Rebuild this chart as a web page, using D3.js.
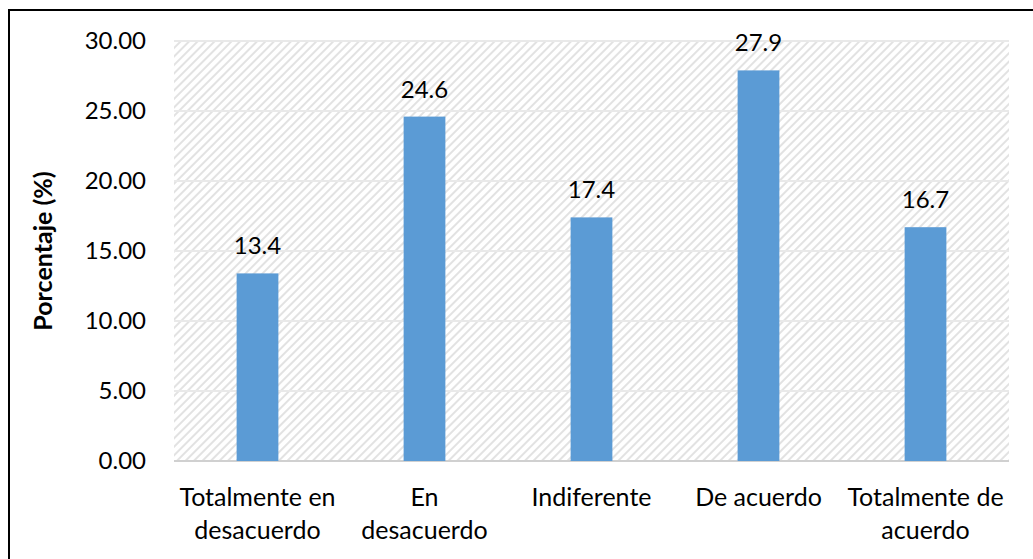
<!DOCTYPE html>
<html>
<head>
<meta charset="utf-8">
<script src="https://cdn.jsdelivr.net/npm/d3@7"></script>
<style>
  body { margin: 0; background: #fff; }
  svg { display: block; font-family: Lato, "Open Sans", sans-serif; }
</style>
</head>
<body>
<svg width="1033" height="559" viewBox="0 0 1033 559"></svg>
<script>
// values
const categories = [
    ["Totalmente en", "desacuerdo"],
    ["En", "desacuerdo"],
    ["Indiferente"],
    ["De acuerdo"],
    ["Totalmente de", "acuerdo"]
];
const values = [13.4, 24.6, 17.4, 27.9, 16.7];
const yTicks = [0, 5, 10, 15, 20, 25, 30];

const svg = d3.select("svg");
const margin = { left: 174, right: 1009, top: 41, bottom: 461 };

// hatch for plot area background
const defs = svg.append("defs");
defs.append("pattern")
    .attr("id", "hatch")
    .attr("patternUnits", "userSpaceOnUse")
    .attr("width", 6)
    .attr("height", 6)
    .attr("patternTransform", "rotate(-45)")
    .append("rect")
    .attr("x", 0).attr("y", 0)
    .attr("width", 6).attr("height", 2)
    .attr("fill", "#e2e2e2");

// chart outer border (runs off the right and bottom of the picture)
svg.append("rect")
    .attr("x", 9).attr("y", 10)
    .attr("width", 1040).attr("height", 560)
    .attr("fill", "none")
    .attr("stroke", "#000")
    .attr("stroke-width", 2);

const x = d3.scaleBand()
    .domain(d3.range(categories.length))
    .range([margin.left, margin.right])
    .padding(0);

const y = d3.scaleLinear()
    .domain([0, 30])
    .range([margin.bottom, margin.top]);

svg.append("rect")
    .attr("x", margin.left)
    .attr("y", margin.top)
    .attr("width", margin.right - margin.left)
    .attr("height", margin.bottom - margin.top)
    .attr("fill", "url(#hatch)");

// gridlines
svg.append("g")
    .selectAll("line")
    .data(yTicks)
    .enter()
    .append("line")
    .attr("x1", margin.left)
    .attr("x2", margin.right)
    .attr("y1", d => y(d))
    .attr("y2", d => y(d))
    .attr("stroke", d => d === 0 ? "#d0d0d0" : "#e9e9e9")
    .attr("stroke-width", 2);

// y tick labels
svg.append("g")
    .selectAll("text")
    .data(yTicks)
    .enter()
    .append("text")
    .attr("x", 146)
    .attr("y", d => y(d))
    .attr("dy", "0.35em")
    .attr("text-anchor", "end")
    .attr("font-size", 24)
    .attr("fill", "#000")
    .text(d => d.toFixed(2));

// y axis title
svg.append("text")
    .attr("transform", `translate(52,${(margin.top + margin.bottom) / 2}) rotate(-90)`)
    .attr("text-anchor", "middle")
    .attr("font-size", 25)
    .attr("font-weight", "bold")
    .text("Porcentaje (%)");

const barW = x.bandwidth() * 0.25;

svg.append("g")
    .selectAll("rect")
    .data(values)
    .enter()
    .append("rect")
    .attr("x", (d, i) => x(i) + x.bandwidth() / 2 - barW / 2)
    .attr("y", d => y(d))
    .attr("width", barW)
    .attr("height", d => y(0) - y(d))
    .attr("fill", "#5b9bd5");

// data labels
svg.append("g")
    .selectAll("text")
    .data(values)
    .enter()
    .append("text")
    .attr("x", (d, i) => x(i) + x.bandwidth() / 2)
    .attr("y", d => y(d) - 19)
    .attr("text-anchor", "middle")
    .attr("font-size", 24)
    .text(d => d.toFixed(1));

// category labels
const catG = svg.append("g")
    .selectAll("text")
    .data(categories)
    .enter()
    .append("text")
    .attr("text-anchor", "middle")
    .attr("font-size", 25);

catG.selectAll("tspan")
    .data((d, i) => d.map(t => ({ t, i })))
    .enter()
    .append("tspan")
    .attr("x", d => x(d.i) + x.bandwidth() / 2)
    .attr("y", (d, j) => 506 + j * 33)
    .text(d => d.t);
</script>
</body>
</html>
